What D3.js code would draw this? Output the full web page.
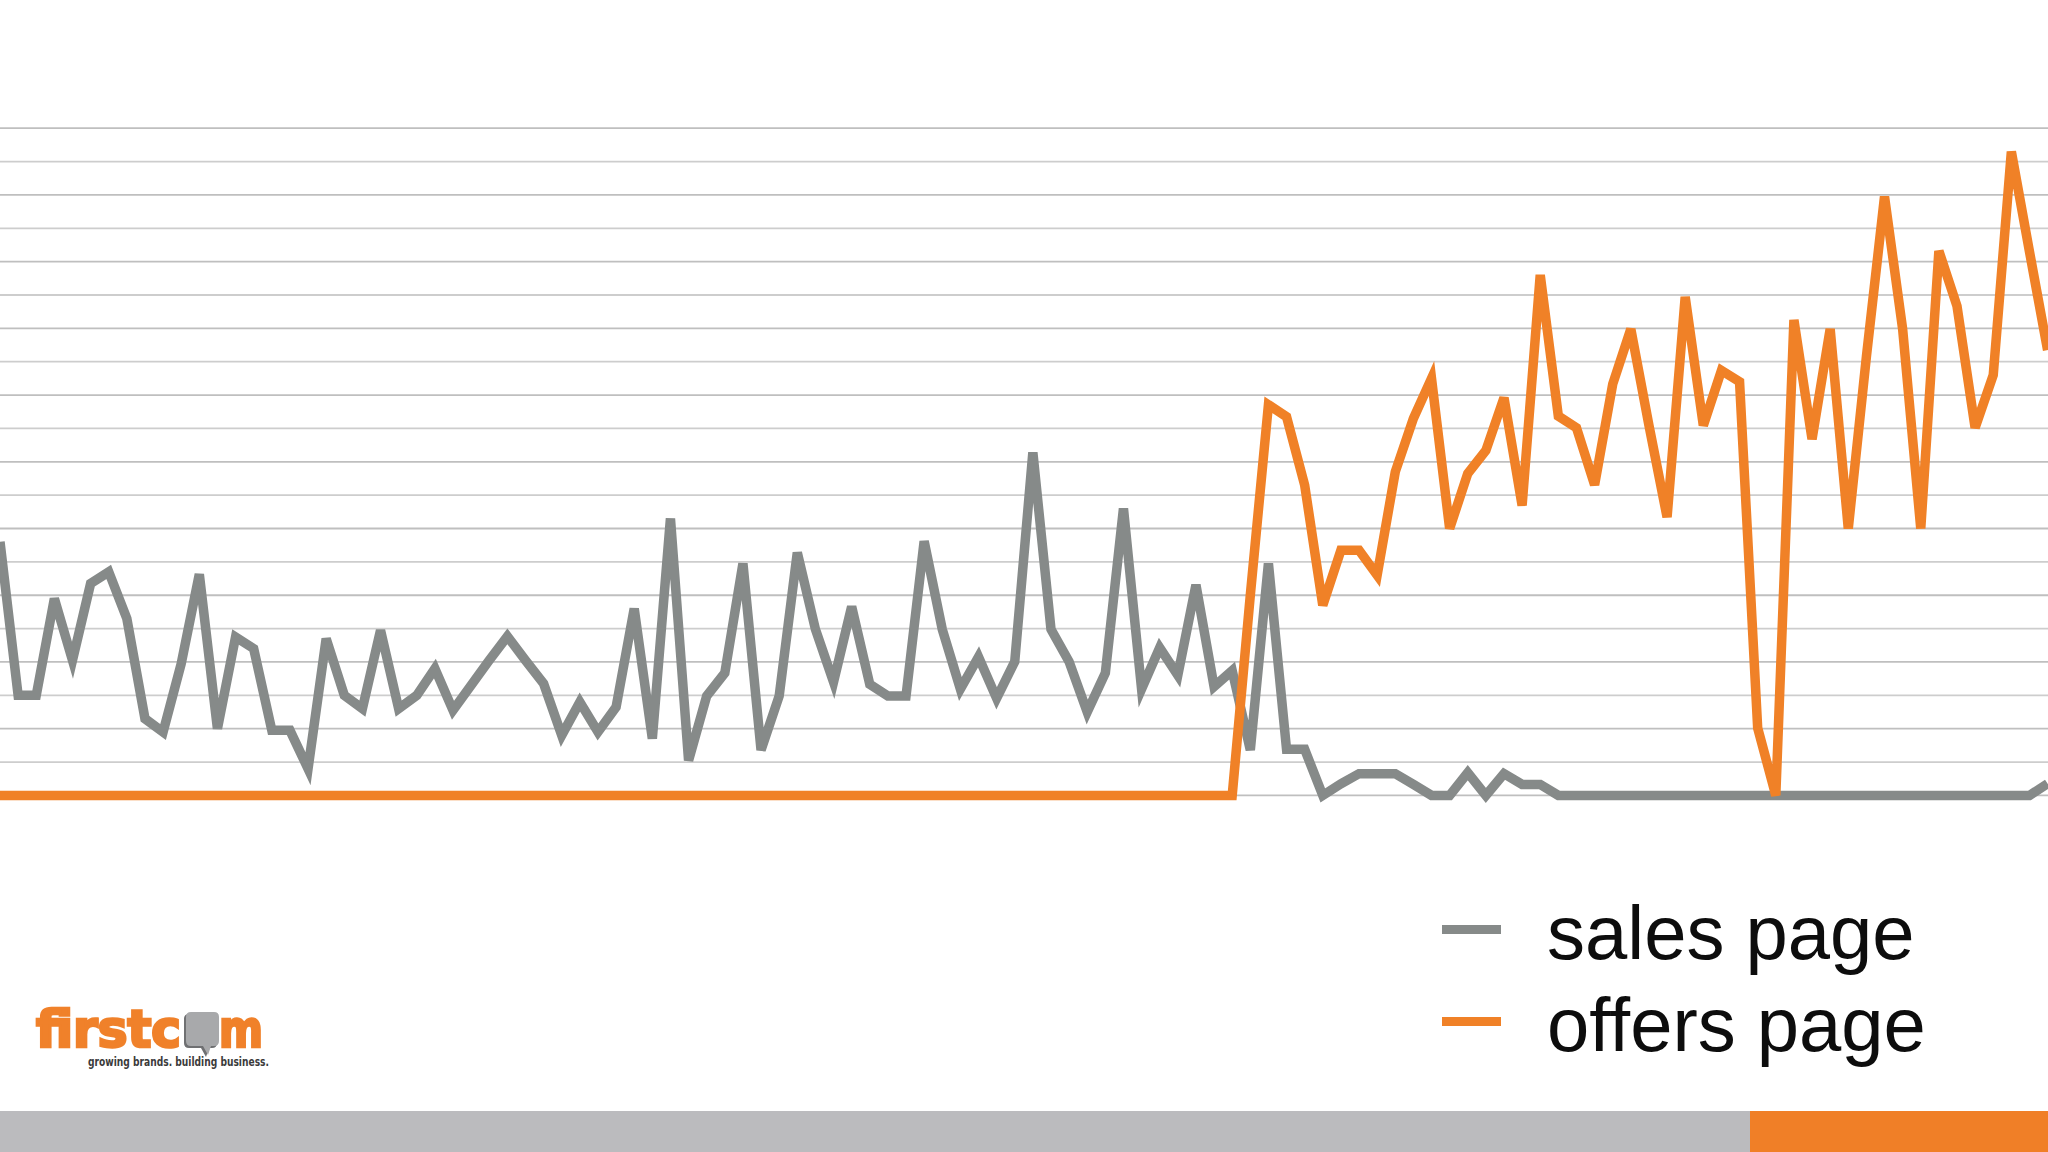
<!DOCTYPE html>
<html>
<head>
<meta charset="utf-8">
<script src="https://cdn.jsdelivr.net/npm/d3@7"></script>
<style>
  html, body { margin: 0; padding: 0; background: #fff; }
  svg { display: block; }
</style>
</head>
<body>
<div class="svg-container"></div>
<script>
// daily visits (units = gridline steps)
const salesPage = [
  7.6, 3.0, 3.0, 5.9, 4.05, 6.35, 6.7, 5.3, 2.3, 1.9,
  3.95, 6.63, 2.0, 4.75, 4.4, 1.95, 1.95, 0.8, 4.7, 3.0,
  2.6, 4.95, 2.6, 3.0, 3.8, 2.55, 3.3, 4.05, 4.77, 4.05,
  3.35, 1.8, 2.8, 1.9, 2.65, 5.6, 1.7, 8.3, 1.05, 2.98,
  3.67, 6.95, 1.36, 2.98, 7.28, 4.98, 3.4, 5.66, 3.33, 2.98,
  2.98, 7.62, 4.98, 3.19, 4.15, 2.91, 4.01, 10.28, 4.98, 4.01,
  2.5, 3.67, 8.6, 3.19, 4.43, 3.6, 6.31, 3.26, 3.74, 1.36,
  6.95, 1.38, 1.38, 0, 0.35, 0.65, 0.65, 0.65, 0.33, 0,
  0, 0.68, 0, 0.65, 0.33, 0.33, 0, 0, 0, 0,
  0, 0, 0, 0, 0, 0, 0, 0, 0, 0,
  0, 0, 0, 0, 0, 0, 0, 0, 0, 0,
  0, 0, 0, 0.35
];

const offersPage = [
  0, 0, 0, 0, 0, 0, 0, 0, 0, 0,
  0, 0, 0, 0, 0, 0, 0, 0, 0, 0,
  0, 0, 0, 0, 0, 0, 0, 0, 0, 0,
  0, 0, 0, 0, 0, 0, 0, 0, 0, 0,
  0, 0, 0, 0, 0, 0, 0, 0, 0, 0,
  0, 0, 0, 0, 0, 0, 0, 0, 0, 0,
  0, 0, 0, 0, 0, 0, 0, 0, 0, 6.0,
  11.71, 11.35, 9.3, 5.7, 7.35, 7.35, 6.6, 9.7, 11.3, 12.5,
  8.0, 9.65, 10.34, 11.92, 8.69, 15.6, 11.37, 11.02, 9.31, 12.33,
  13.98, 11.09, 8.34, 14.94, 11.09, 12.74, 12.4, 2.02, 0, 14.25,
  10.68, 13.98, 8.0, 13.15, 17.95, 13.98, 8.0, 16.32, 14.67, 11.02,
  12.6, 19.3, 16.3, 13.35
];

const gridValues = d3.range(0, 21);
const seriesNames = ['sales page', 'offers page'];
const seriesColours = ['#868a89', '#f08127'];

// set up required dimensions
const width = 2048;
const height = 1152;

const svg = d3.select('.svg-container')
  .append('svg')
  .attr('width', width)
  .attr('height', height)
  .style('font-family', "'Liberation Sans', Arial, Helvetica, sans-serif");

svg.append('rect')
  .attr('width', width)
  .attr('height', height)
  .attr('fill', '#ffffff');

// scales
const x = d3.scaleLinear()
  .domain([0, salesPage.length - 1])
  .range([0, 2047.6]);

const y = d3.scaleLinear()
  .domain([0, 20])
  .range([795.4, 128.2]);

// horizontal gridlines
svg.append('g')
  .attr('class', 'grid')
  .selectAll('line')
  .data(gridValues)
  .enter()
  .append('line')
  .attr('x1', 0)
  .attr('x2', width)
  .attr('y1', d => y(d))
  .attr('y2', d => y(d))
  .attr('stroke', (d, i) => i % 2 ? '#cdcdcd' : '#bfbfbf')
  .attr('stroke-width', 1.8);

// the two series
const line = d3.line()
  .x((d, i) => x(i))
  .y(d => y(d));

svg.selectAll('path.series')
  .data([salesPage, offersPage])
  .enter()
  .append('path')
  .attr('class', 'series')
  .attr('d', line)
  .attr('fill', 'none')
  .attr('stroke', (d, i) => seriesColours[i])
  .attr('stroke-width', 9.5)
  .attr('stroke-linejoin', 'miter')
  .attr('stroke-miterlimit', 4);

// legend
const legend = svg.append('g')
  .selectAll('g')
  .data(seriesNames)
  .enter()
  .append('g')
  .attr('transform', (d, i) => `translate(0, ${i * 92})`);

legend.append('line')
  .attr('x1', 1442)
  .attr('x2', 1501)
  .attr('y1', 929.5)
  .attr('y2', 929.5)
  .attr('stroke', (d, i) => seriesColours[i])
  .attr('stroke-width', 9);

legend.append('text')
  .attr('x', 1547)
  .attr('y', 959)
  .attr('font-size', 76)
  .attr('fill', '#0d0d0d')
  .text(d => d);

// firstcom logo
const logo = svg.append('g')
  .style('font-family', "'DejaVu Sans Condensed', 'Liberation Sans Narrow', 'DejaVu Sans', sans-serif")
  .style('font-weight', 'bold');

logo.append('text')
  .attr('x', 36)
  .attr('y', 1047)
  .attr('font-size', 52)
  .attr('fill', '#f0812a')
  .attr('stroke', '#f0812a')
  .attr('stroke-width', 2.6)
  .attr('textLength', 145)
  .attr('lengthAdjust', 'spacingAndGlyphs')
  .text('firstc');

// speech bubble standing in for the "o"
const bubble = 'M186,1017 Q186,1012 191,1012 L214,1012 Q219,1012 219,1017 L219,1041 Q219,1046 214,1046 L211,1046 L208,1055 L203,1046 L191,1046 Q186,1046 186,1041 Z';

logo.append('path')
  .attr('d', bubble)
  .attr('fill', '#6f7072')
  .attr('transform', 'translate(-2, 2)');

logo.append('path')
  .attr('d', bubble)
  .attr('fill', '#a8a9ab');

logo.append('text')
  .attr('x', 219)
  .attr('y', 1047)
  .attr('font-size', 52)
  .attr('fill', '#f0812a')
  .attr('stroke', '#f0812a')
  .attr('stroke-width', 2.6)
  .attr('textLength', 44)
  .attr('lengthAdjust', 'spacingAndGlyphs')
  .text('m');

logo.append('text')
  .attr('x', 88)
  .attr('y', 1066)
  .attr('font-size', 12)
  .attr('fill', '#3b3b3b')
  .attr('textLength', 181)
  .attr('lengthAdjust', 'spacingAndGlyphs')
  .text('growing brands. building business.');

// footer band
svg.append('rect')
  .attr('x', 0)
  .attr('y', 1111)
  .attr('width', 1750)
  .attr('height', 41)
  .attr('fill', '#bbbbbe');

svg.append('rect')
  .attr('x', 1750)
  .attr('y', 1111)
  .attr('width', 298)
  .attr('height', 41)
  .attr('fill', '#f07f27');
</script>
</body>
</html>
